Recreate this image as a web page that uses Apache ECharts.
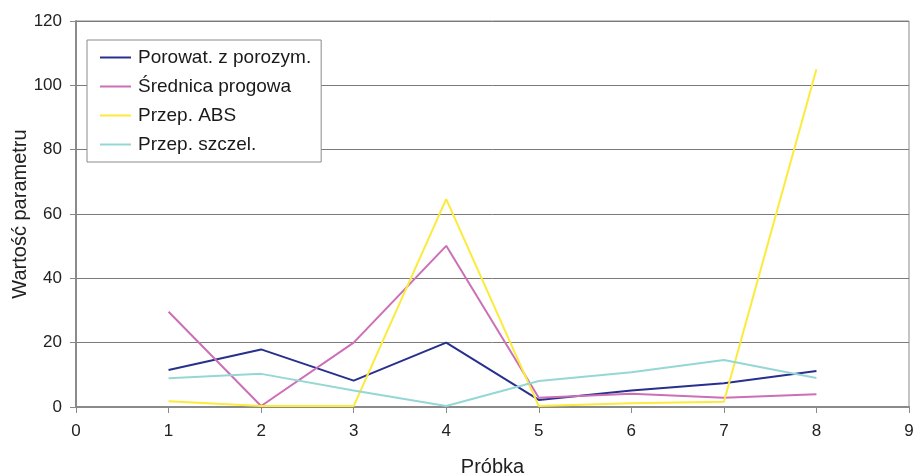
<!DOCTYPE html>
<html>
<head>
<meta charset="utf-8">
<script src="https://cdn.jsdelivr.net/npm/echarts@6/dist/echarts.min.js"></script>
<style>
  html, body { margin: 0; padding: 0; background: #fff; }
  #chart { width: 916px; height: 474px; }
</style>
</head>
<body>
<div id="chart"></div>
<script>
// Sample numbers (x) and measured parameter values for each series
const samples = [1, 2, 3, 4, 5, 6, 7, 8];
const porowatosc = [11.5, 17.9, 8.2, 20.0, 2.2, 5.1, 7.4, 11.2];
const srednica = [29.6, 0.3, 20.0, 50.1, 2.9, 4.1, 2.9, 4.0];
const przepABS = [1.8, 0.3, 0.3, 64.6, 0.3, 1.2, 1.6, 105.0];
const przepSzczel = [8.9, 10.3, 5.1, 0.3, 8.1, 10.8, 14.6, 9.0];
const seriesNames = ['Porowat. z porozym.', 'Średnica progowa', 'Przep. ABS', 'Przep. szczel.'];
const xTicks = [0, 9, 1];   // min, max, interval
const yTicks = [0, 120, 20];

const colors = ['#28308e', '#cc6fb6', '#fbeb3a', '#95d7d5'];
const FONT = '"Liberation Sans", Arial, sans-serif';

const pairs = vals => samples.map((s, i) => [s, vals[i]]);
const allValues = [porowatosc, srednica, przepABS, przepSzczel];

const chart = echarts.init(document.getElementById('chart'), null, { renderer: 'canvas' });
chart.setOption({
  animation: false,
  backgroundColor: '#fff',
  grid: {
    left: 76, top: 21, right: 7, bottom: 67,
    containLabel: false,
    outerBoundsMode: 'none',
    show: true, borderColor: '#8a8a8a', borderWidth: 1, backgroundColor: 'transparent'
  },
  legend: {
    orient: 'vertical',
    left: 87, top: 40,
    padding: [8, 10, 8, 13],
    itemGap: 10,
    itemWidth: 31, itemHeight: 2,
    icon: 'rect',
    backgroundColor: '#fff',
    borderColor: '#8a8a8a', borderWidth: 1,
    textStyle: { fontFamily: FONT, fontSize: 19, color: '#1a1a1a', padding: [0, 0, 0, 2] },
    data: seriesNames
  },
  xAxis: {
    type: 'value',
    min: xTicks[0], max: xTicks[1], interval: xTicks[2],
    name: 'Próbka', nameLocation: 'middle', nameGap: 50,
    nameMoveOverlap: false,
    nameTextStyle: { fontFamily: FONT, fontSize: 20, color: '#222' },
    axisLine: { lineStyle: { color: '#8a8a8a', width: 2 } },
    axisTick: { show: true, length: 6, lineStyle: { color: '#8a8a8a' } },
    axisLabel: { fontFamily: FONT, fontSize: 17, color: '#222', margin: 16 },
    splitLine: { show: false }
  },
  yAxis: {
    type: 'value',
    min: yTicks[0], max: yTicks[1], interval: yTicks[2],
    name: 'Wartość parametru', nameLocation: 'middle', nameGap: 46, nameRotate: 90,
    nameMoveOverlap: false,
    nameTextStyle: { fontFamily: FONT, fontSize: 20, color: '#222' },
    axisLine: { show: true, lineStyle: { color: '#8a8a8a', width: 2 } },
    axisTick: { show: true, length: 6, lineStyle: { color: '#8a8a8a' } },
    axisLabel: { fontFamily: FONT, fontSize: 17, color: '#222', margin: 14 },
    splitLine: { show: true, lineStyle: { color: '#7a7a7a', width: 1 } }
  },
  series: seriesNames.map((name, k) => ({
    name,
    type: 'line',
    data: pairs(allValues[k]),
    symbol: 'none',
    lineStyle: { color: colors[k], width: 2 },
    itemStyle: { color: colors[k] },
    z: 2 + k
  }))
});
</script>
</body>
</html>
